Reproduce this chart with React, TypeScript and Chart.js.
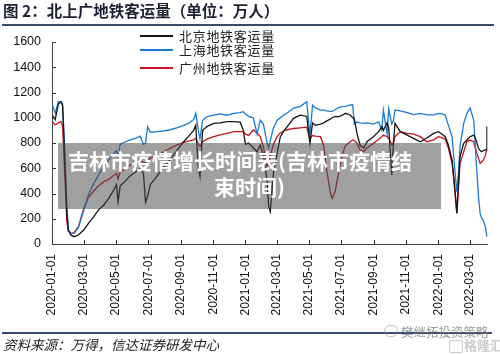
import React, { useEffect, useRef } from "react";
import { Chart, registerables } from "chart.js";

Chart.register(...registerables);

// ---- data (values in 万人) ----
const dates = [
  "2020-01-02", "2020-01-07", "2020-01-13", "2020-01-18", "2020-01-21", "2020-01-25", "2020-01-29",
  "2020-02-01", "2020-02-06", "2020-02-12", "2020-02-20", "2020-03-01", "2020-03-10", "2020-03-20",
  "2020-03-29", "2020-04-08", "2020-04-17", "2020-04-27", "2020-05-02", "2020-05-05", "2020-05-09",
  "2020-05-19", "2020-05-28", "2020-06-07", "2020-06-16", "2020-06-22", "2020-06-26", "2020-06-30",
  "2020-07-05", "2020-07-18", "2020-07-30", "2020-08-12", "2020-08-24", "2020-09-06", "2020-09-15",
  "2020-09-25", "2020-09-29", "2020-10-04", "2020-10-07", "2020-10-12", "2020-10-20", "2020-11-02",
  "2020-11-14", "2020-11-27", "2020-12-10", "2020-12-22", "2020-12-28", "2021-01-01", "2021-01-07",
  "2021-01-16", "2021-01-23", "2021-01-29", "2021-02-04", "2021-02-11", "2021-02-14", "2021-02-17",
  "2021-02-23", "2021-03-02", "2021-03-08", "2021-03-14", "2021-03-21", "2021-04-02", "2021-04-15",
  "2021-04-27", "2021-05-03", "2021-05-08", "2021-05-13", "2021-05-23", "2021-05-29", "2021-06-04",
  "2021-06-11", "2021-06-14", "2021-06-20", "2021-06-26", "2021-07-03", "2021-07-09", "2021-07-18",
  "2021-07-23", "2021-07-26", "2021-07-31", "2021-08-06", "2021-08-13", "2021-08-19", "2021-08-31",
  "2021-09-10", "2021-09-16", "2021-09-19", "2021-09-26", "2021-09-29", "2021-10-05", "2021-10-08",
  "2021-10-11", "2021-10-21", "2021-11-03", "2021-11-15", "2021-11-28", "2021-12-10", "2021-12-23",
  "2022-01-01", "2022-01-08", "2022-01-14", "2022-01-20", "2022-01-27", "2022-02-01", "2022-02-05",
  "2022-02-08", "2022-02-11", "2022-02-18", "2022-02-24", "2022-03-02", "2022-03-09", "2022-03-12",
  "2022-03-15", "2022-03-18", "2022-03-21", "2022-03-24", "2022-03-27", "2022-03-31", "2022-04-02",
  "2022-04-03",
];

const beijing = [
  1020, 985, 1110, 1125, 1100, 700, 250,
  110, 70, 58, 71, 111, 164, 216,
  270, 309, 360, 428, 470, 335, 460,
  500, 540, 570, 600, 560, 330, 380,
  470, 540, 610, 670, 740, 810, 850,
  900, 940, 600, 533, 900, 930, 956,
  960, 970, 970, 965, 900, 790, 800,
  760, 731, 784, 700, 500, 300, 256,
  560, 718, 850, 890, 929, 995, 1020,
  1010, 797, 960, 940, 950, 960, 975,
  990, 1000, 1010, 1008, 1020, 1035, 1022,
  1000, 995, 876, 780, 760, 810, 850,
  890, 929, 900, 960, 920, 546, 800,
  956, 890, 863, 837, 810, 840, 876,
  890, 870, 850, 784, 665, 450, 243,
  480, 692, 797, 824, 850, 863, 840,
  800, 758, 740, 731, 740, 745, 750,
  930,
];

const shanghai = [
  1100, 1035, 1127, 1127, 1110, 750, 300,
  110, 80, 85, 130, 265, 390, 480,
  546, 615, 665, 718, 740, 700, 790,
  810, 824, 837, 855, 790, 800, 929,
  885, 890, 895, 905, 920, 940, 955,
  985, 1035, 900, 830, 980, 1008, 1020,
  1030, 1020, 1035, 1040, 1048, 1030, 1010,
  1000, 870, 980, 950, 800, 760, 820,
  920, 980, 1000, 1020, 1037, 1077, 1090,
  1127, 860, 1100, 1080, 1061, 1060, 1055,
  1050, 1050, 1065, 1080, 1088, 1090, 1101,
  1101, 950, 966, 960, 955, 960, 950,
  968, 903, 1061, 870, 1070, 950, 980,
  1061, 1055, 1040, 1025, 1035, 1022, 1022,
  1035, 1030, 1022, 940, 850, 600, 414,
  560, 771, 956, 1035, 1077, 982, 771,
  560, 375, 243, 203, 190, 137, 80,
  58,
];

const guangzhou = [
  969, 943, 960, 969, 935, 560, 180,
  100, 84, 90, 140, 280, 370, 420,
  460, 494, 510, 545, 560, 515, 573,
  595, 625, 652, 665, 645, 640, 660,
  680, 700, 731, 758, 784, 805, 815,
  824, 837, 790, 771, 810, 830, 850,
  865, 876, 890, 890, 890, 870, 860,
  903, 880, 850, 771, 612, 640, 700,
  790, 850, 880, 895, 905, 915, 920,
  925, 830, 860, 855, 850, 780, 580,
  400, 362, 420, 560, 700, 780, 810,
  824, 820, 797, 745, 731, 760, 797,
  830, 850, 863, 850, 840, 784, 800,
  850, 890, 876, 870, 850, 810, 825,
  850, 840, 830, 758, 639, 428, 243,
  428, 639, 731, 810, 824, 810, 760,
  718, 680, 639, 650, 665, 700, 740,
  745,
];

const xTickLabels = [
  "2020-01-01", "2020-03-01", "2020-05-01", "2020-07-01", "2020-09-01", "2020-11-01",
  "2021-01-01", "2021-03-01", "2021-05-01", "2021-07-01", "2021-09-01", "2021-11-01",
  "2022-01-01", "2022-03-01",
];
const yTicks = [0, 200, 400, 600, 800, 1000, 1200, 1400, 1600];

const seriesNames = ["北京地铁客运量", "上海地铁客运量", "广州地铁客运量"];
const seriesColors = ["#151515", "#1b7bd3", "#c8121e"];

const titleText = "图 2：北上广地铁客运量（单位：万人）";
const sourceText = "资料来源：万得，信达证券研发中心";
const overlayLine1 = "吉林市疫情增长时间表(吉林市疫情结";
const overlayLine2 = "束时间)";

// ---- helpers ----
const DAY0 = Date.UTC(2020, 0, 1);
function dayOf(s: string): number {
  const [y, m, d] = s.split("-").map(Number);
  return (Date.UTC(y, m - 1, d) - DAY0) / 86400000;
}
function dateOf(day: number): string {
  const dt = new Date(DAY0 + Math.round(day) * 86400000);
  const p = (n: number) => String(n).padStart(2, "0");
  return `${dt.getUTCFullYear()}-${p(dt.getUTCMonth() + 1)}-${p(dt.getUTCDate())}`;
}

const tickDays = xTickLabels.map(dayOf);
const X_MAX = dayOf("2022-04-04");

const innerTicks = {
  id: "innerTicks",
  afterDraw(chart: any) {
    const { ctx, chartArea, scales } = chart;
    ctx.save();
    ctx.strokeStyle = "#333";
    ctx.lineWidth = 1;
    yTicks.forEach((v) => {
      const py = Math.round(scales.y.getPixelForValue(v)) + 0.5;
      ctx.beginPath();
      ctx.moveTo(chartArea.left, py);
      ctx.lineTo(chartArea.left + 4, py);
      ctx.stroke();
    });
    tickDays.forEach((v) => {
      const px = Math.round(scales.x.getPixelForValue(v)) + 0.5;
      ctx.beginPath();
      ctx.moveTo(px, chartArea.bottom);
      ctx.lineTo(px, chartArea.bottom - 4);
      ctx.stroke();
    });
    ctx.restore();
  },
};

const legendRowsY = [35.7, 49.7, 67.5];

export default function App() {
  const canvasRef = useRef<HTMLCanvasElement | null>(null);

  useEffect(() => {
    if (!canvasRef.current) return;
    const series = [beijing, shanghai, guangzhou];
    const chart = new Chart(canvasRef.current, {
      type: "line",
      data: {
        datasets: series.map((vals, i) => ({
          label: seriesNames[i],
          data: dates.map((d, j) => ({ x: dayOf(d), y: vals[j] })),
          borderColor: seriesColors[i],
          backgroundColor: seriesColors[i],
          borderWidth: 1.3,
          pointRadius: 0,
          tension: 0,
          fill: false,
        })),
      },
      options: {
        responsive: false,
        animation: false,
        devicePixelRatio: 1,
        layout: { padding: { left: 0, right: 12.5, top: 42, bottom: 0 } },
        plugins: {
          legend: { display: false },
          tooltip: { enabled: false },
        },
        scales: {
          x: {
            type: "linear",
            min: 0,
            max: X_MAX,
            grid: { display: false, drawTicks: false },
            border: { display: true, color: "#444", width: 1 },
            afterBuildTicks: (scale: any) => {
              scale.ticks = tickDays.map((v) => ({ value: v }));
            },
            afterFit: (scale: any) => {
              scale.height = 110;
            },
            ticks: {
              autoSkip: false,
              minRotation: 90,
              maxRotation: 90,
              padding: 10,
              color: "#111",
              font: { family: "'Liberation Sans', Arial, sans-serif", size: 12 },
              callback: (v: any) => dateOf(Number(v)),
            },
          },
          y: {
            min: 0,
            max: 1600,
            grid: { display: false, drawTicks: false },
            border: { display: true, color: "#444", width: 1 },
            afterBuildTicks: (scale: any) => {
              scale.ticks = yTicks.map((v) => ({ value: v }));
            },
            afterFit: (scale: any) => {
              scale.width = 52;
            },
            ticks: {
              padding: 11,
              color: "#111",
              font: { family: "'Liberation Sans', Arial, sans-serif", size: 12.5 },
              callback: (v: any) => String(v),
            },
          },
        },
      },
      plugins: [innerTicks],
    } as any);
    return () => chart.destroy();
  }, []);

  const cjk = "'Noto Sans CJK SC', 'Noto Sans', sans-serif";

  return (
    <div
      style={{
        position: "absolute",
        left: 0,
        top: 0,
        width: 500,
        height: 354,
        background: "#fff",
        overflow: "hidden",
        fontFamily: cjk,
      }}
    >
      <canvas ref={canvasRef} width={500} height={354} style={{ position: "absolute", left: 0, top: 0, width: 500, height: 354 }} />

      {/* title */}
      <div
        style={{
          position: "absolute",
          left: 3,
          top: 0,
          fontSize: 15.5,
          lineHeight: "20px",
          fontWeight: 700,
          color: "#1d2233",
          whiteSpace: "nowrap",
        }}
      >
        {titleText}
      </div>
      <div style={{ position: "absolute", left: 2, top: 24, width: 492, height: 2, background: "#3a4a6e" }} />

      {/* legend */}
      {seriesNames.map((name, i) => (
        <div key={name}>
          <div
            style={{
              position: "absolute",
              left: 140,
              top: legendRowsY[i] - 1,
              width: 33,
              height: 2,
              background: seriesColors[i],
            }}
          />
          <div
            style={{
              position: "absolute",
              left: 179,
              top: legendRowsY[i] - 9,
              fontSize: 13,
              lineHeight: "18px",
              letterSpacing: 0.7,
              color: "#222",
              whiteSpace: "nowrap",
            }}
          >
            {name}
          </div>
        </div>
      ))}

      {/* overlay banner */}
      <div
        style={{
          position: "absolute",
          left: 58,
          top: 143,
          width: 383,
          height: 66,
          background: "rgba(72,72,72,0.52)",
          color: "#fff",
          fontWeight: 700,
          fontSize: 21,
          lineHeight: "26px",
        }}
      >
        <div style={{ position: "absolute", left: 10, top: 4, whiteSpace: "nowrap" }}>{overlayLine1}</div>
        <div style={{ position: "absolute", left: 0, top: 30, width: 383, textAlign: "center", whiteSpace: "nowrap" }}>
          {overlayLine2}
        </div>
      </div>

      {/* bottom rule and source */}
      <div style={{ position: "absolute", left: 2, top: 332, width: 490, height: 1.5, background: "#3a4a6e" }} />
      <div
        style={{
          position: "absolute",
          left: 3,
          top: 335,
          fontSize: 13.5,
          lineHeight: "18px",
          fontStyle: "italic",
          color: "#222",
          whiteSpace: "nowrap",
        }}
      >
        {sourceText}
      </div>

      {/* watermark */}
      <div
        style={{
          position: "absolute",
          left: 384,
          top: 325,
          width: 12,
          height: 10,
          borderRadius: 6,
          border: "1px solid rgba(150,150,150,0.6)",
        }}
      />
      <div
        style={{
          position: "absolute",
          left: 401,
          top: 324,
          fontSize: 12.5,
          lineHeight: "16px",
          color: "rgba(120,120,120,0.75)",
          whiteSpace: "nowrap",
        }}
      >
        樊继拓投资策略
      </div>
      <div
        style={{
          position: "absolute",
          left: 449,
          top: 340,
          width: 12,
          height: 11,
          border: "1.5px solid rgba(170,170,170,0.6)",
          borderRadius: 2,
        }}
      />
      <div
        style={{
          position: "absolute",
          left: 464,
          top: 337,
          fontSize: 13,
          lineHeight: "16px",
          fontWeight: 700,
          color: "rgba(170,170,170,0.6)",
          whiteSpace: "nowrap",
        }}
      >
        格隆汇
      </div>
    </div>
  );
}
